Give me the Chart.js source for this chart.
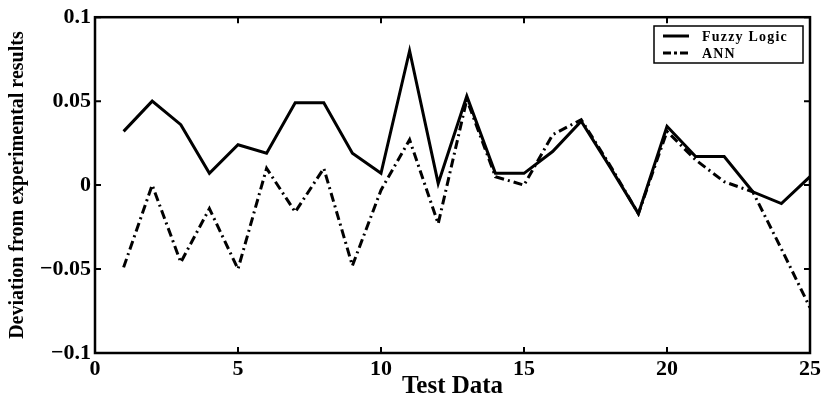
<!DOCTYPE html>
<html>
<head>
<meta charset="utf-8">
<script src="https://cdn.jsdelivr.net/npm/chart.js@4.4.1/dist/chart.umd.min.js"></script>
<style>
  html, body { margin: 0; padding: 0; background: #fff; }
  #wrap { width: 826px; height: 402px; }
</style>
</head>
<body>
<div id="wrap"><canvas id="devChart"></canvas></div>
<script>
// values
var testData = [1, 2, 3, 4, 5, 6, 7, 8, 9, 10, 11, 12, 13, 14, 15, 16, 17, 18, 19, 20, 21, 22, 23, 24, 25];
var fuzzyLogic = [0.032, 0.050, 0.036, 0.007, 0.024, 0.019, 0.049, 0.049, 0.019, 0.007,
                  0.080, 0.001, 0.053, 0.007, 0.007, 0.020, 0.038, 0.011, -0.017, 0.035,
                  0.017, 0.017, -0.004, -0.011, 0.005];
var ann = [-0.049, 0.000, -0.046, -0.014, -0.050, 0.010, -0.016, 0.010, -0.048, -0.003,
           0.027, -0.023, 0.051, 0.005, 0.000, 0.030, 0.039, 0.012, -0.017, 0.032,
           0.015, 0.002, -0.004, -0.038, -0.073];
var xTicks = [0, 5, 10, 15, 20, 25];
var yTicks = [-0.1, -0.05, 0, 0.05, 0.1];

var serif = '"Liberation Serif", "DejaVu Serif", serif';
var annDash = [9, 4, 2, 4];

function toPoints(vals) {
    return testData.map(function (x, i) { return { x: x, y: vals[i] }; });
}

// frame round the plot, inward ticks on all four sides, and the legend box
var framePlugin = {
    id: 'frame',
    afterDraw: function (chart) {
        var c = chart.ctx, a = chart.chartArea;
        var xs = chart.scales.x, ys = chart.scales.y;
        c.save();
        c.strokeStyle = '#000';
        c.lineWidth = 2.5;
        c.strokeRect(a.left, a.top, a.right - a.left, a.bottom - a.top);
        c.lineWidth = 2;
        xTicks.forEach(function (t) {
            var px = xs.getPixelForValue(t);
            c.beginPath();
            c.moveTo(px, a.bottom); c.lineTo(px, a.bottom - 6);
            c.moveTo(px, a.top); c.lineTo(px, a.top + 6);
            c.stroke();
        });
        yTicks.forEach(function (t) {
            var py = ys.getPixelForValue(t);
            c.beginPath();
            c.moveTo(a.left, py); c.lineTo(a.left + 6, py);
            c.moveTo(a.right, py); c.lineTo(a.right - 6, py);
            c.stroke();
        });

        // legend
        var bx = 654, by = 26, bw = 149, bh = 37;
        c.fillStyle = '#fff';
        c.fillRect(bx, by, bw, bh);
        c.lineWidth = 1.5;
        c.strokeRect(bx, by, bw, bh);
        var rows = [
            { label: chart.data.datasets[0].label, dash: [], y: by + 10 },
            { label: chart.data.datasets[1].label, dash: [8, 3, 3, 3], y: by + 27 }
        ];
        rows.forEach(function (r) {
            c.beginPath();
            c.setLineDash(r.dash);
            c.lineWidth = 3;
            c.moveTo(bx + 9, r.y);
            c.lineTo(bx + 35, r.y);
            c.stroke();
            c.setLineDash([]);
            c.fillStyle = '#000';
            c.font = 'bold 14px ' + serif;
            c.letterSpacing = '1.2px';
            c.textBaseline = 'middle';
            c.textAlign = 'left';
            c.fillText(r.label, bx + 48, r.y + 1);
        });
        c.restore();
    }
};

var ctx = document.getElementById('devChart').getContext('2d');
var devChart = new Chart(ctx, {
    type: 'line',
    data: {
        datasets: [{
            label: 'Fuzzy Logic',
            data: toPoints(fuzzyLogic),
            borderColor: '#000',
            borderWidth: 3,
            pointRadius: 0,
            tension: 0,
            fill: false
        }, {
            label: 'ANN',
            data: toPoints(ann),
            borderColor: '#000',
            borderWidth: 3,
            borderDash: annDash,
            pointRadius: 0,
            tension: 0,
            fill: false
        }]
    },
    options: {
        responsive: true,
        maintainAspectRatio: false,
        animation: false,
        layout: {
            padding: { top: 17, right: 16, left: 0, bottom: 0 }
        },
        plugins: {
            legend: { display: false },
            tooltip: { enabled: false }
        },
        scales: {
            x: {
                type: 'linear',
                min: 0,
                max: 25,
                afterBuildTicks: function (scale) {
                    scale.ticks = xTicks.map(function (v) { return { value: v }; });
                },
                afterFit: function (scale) { scale.height = 49; },
                grid: { display: false, drawTicks: false },
                border: { display: false },
                ticks: {
                    color: '#000',
                    padding: 3,
                    maxRotation: 0,
                    font: { family: serif, size: 22, weight: 'bold' }
                },
                title: {
                    display: true,
                    text: 'Test Data',
                    color: '#000',
                    padding: { top: -6, bottom: 0 },
                    font: { family: serif, size: 25, weight: 'bold' }
                }
            },
            y: {
                min: -0.1,
                max: 0.1,
                afterBuildTicks: function (scale) {
                    scale.ticks = yTicks.map(function (v) { return { value: v }; });
                },
                afterFit: function (scale) { scale.width = 95; },
                grid: { display: false, drawTicks: false },
                border: { display: false },
                ticks: {
                    color: '#000',
                    padding: 4,
                    font: { family: serif, size: 22, weight: 'bold' },
                    callback: function (v) {
                        return String(Math.round(v * 100) / 100).replace('-', '\u2212');
                    }
                },
                title: {
                    display: true,
                    text: 'Deviation from experimental results',
                    color: '#000',
                    padding: { top: 6, bottom: 0 },
                    font: { family: serif, size: 20, weight: 'bold' }
                }
            }
        }
    },
    plugins: [framePlugin]
});
</script>
</body>
</html>
